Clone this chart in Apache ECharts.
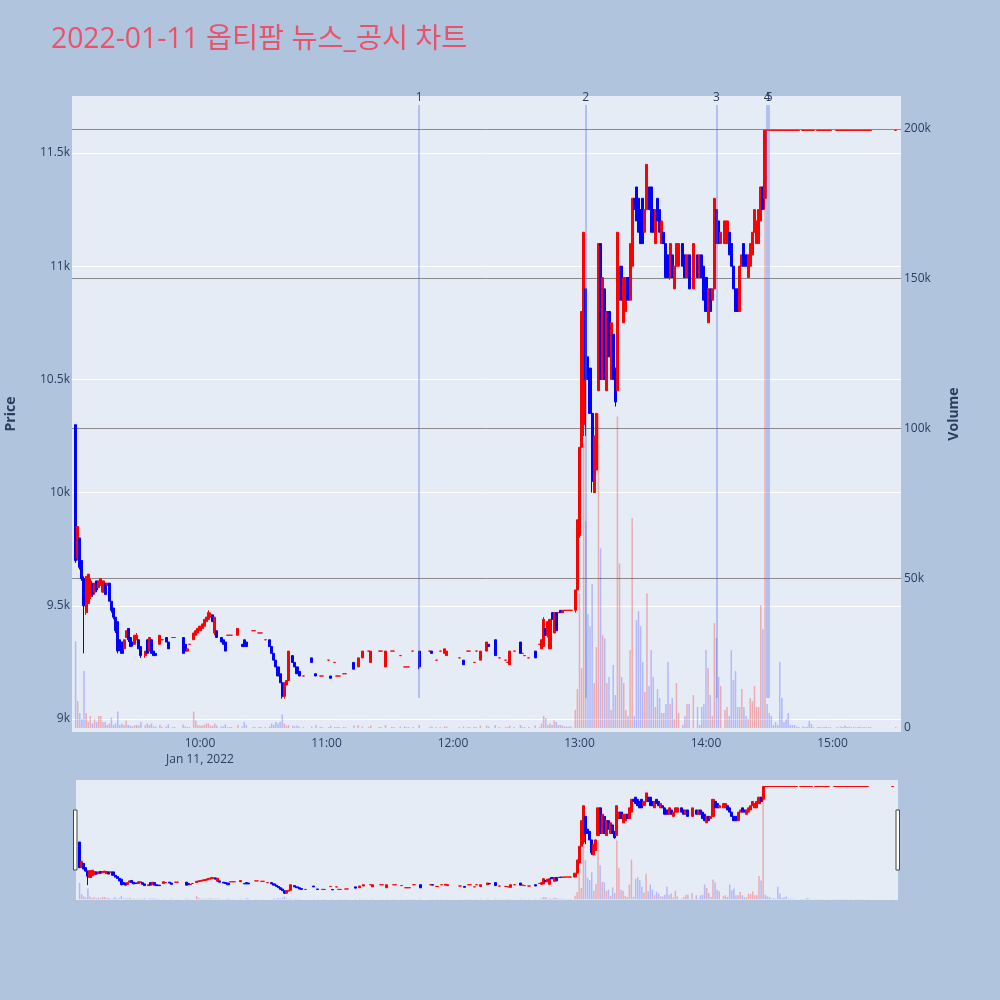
<!DOCTYPE html>
<html><head><meta charset="utf-8">
<script src="https://cdn.jsdelivr.net/npm/echarts@6/dist/echarts.min.js"></script>
<style>html,body{margin:0;padding:0;background:#b0c4de}#c{width:1000px;height:1000px}</style>
</head><body><div id="c"></div>
<script>
// ---------- data (minute bars, 2022-01-11) ----------
const times = [
"09:01","09:02","09:03","09:04","09:05","09:06","09:07","09:08","09:09","09:10","09:11","09:12","09:13","09:14","09:15","09:16",
"09:17","09:18","09:19","09:20","09:21","09:22","09:23","09:24","09:25","09:26","09:27","09:28","09:29","09:30","09:31","09:32",
"09:34","09:35","09:36","09:37","09:38","09:39","09:41","09:42","09:44","09:45","09:47","09:48","09:52","09:53","09:54","09:55",
"09:57","09:58","09:59","10:00","10:01","10:02","10:03","10:04","10:05","10:06","10:07","10:08","10:10","10:11","10:12","10:13",
"10:14","10:15","10:18","10:20","10:21","10:22","10:25","10:26","10:28","10:29","10:31","10:33","10:34","10:35","10:36","10:37",
"10:38","10:39","10:40","10:41","10:42","10:44","10:45","10:46","10:47","10:49","10:53","10:55","10:57","10:58","11:01","11:02",
"11:04","11:05","11:06","11:08","11:09","11:13","11:15","11:17","11:20","11:21","11:25","11:26","11:28","11:31","11:32","11:35",
"11:37","11:38","11:39","11:41","11:44","11:49","11:50","11:52","11:54","11:56","11:57","12:03","12:05","12:07","12:08","12:10",
"12:11","12:13","12:16","12:17","12:20","12:22","12:25","12:26","12:27","12:29","12:32","12:33","12:34","12:36","12:39","12:41",
"12:42","12:43","12:44","12:45","12:46","12:47","12:48","12:49","12:50","12:51","12:52","12:53","12:54","12:55","12:56","12:58",
"12:59","13:00","13:01","13:02","13:03","13:04","13:05","13:06","13:07","13:08","13:09","13:10","13:11","13:12","13:13","13:14",
"13:15","13:16","13:17","13:18","13:19","13:20","13:21","13:22","13:23","13:24","13:25","13:26","13:27","13:28","13:29","13:30",
"13:31","13:32","13:33","13:34","13:35","13:36","13:37","13:38","13:39","13:40","13:41","13:42","13:43","13:44","13:45","13:46",
"13:47","13:49","13:50","13:51","13:52","13:54","13:56","13:57","13:58","13:59","14:00","14:01","14:02","14:03","14:04","14:05",
"14:06","14:07","14:09","14:10","14:11","14:12","14:13","14:14","14:15","14:16","14:17","14:18","14:19","14:20","14:21","14:22",
"14:23","14:24","14:25","14:26","14:27","14:28","14:29","14:30","14:31","14:32","14:33","14:34","14:35","14:36","14:37","14:38",
"14:39","14:40","14:41","14:42","14:43","14:44","14:46","14:47","14:48","14:49","14:50","14:51","14:53","14:54","14:55","14:56",
"14:57","14:58","14:59","15:02","15:03","15:04","15:05","15:06","15:07","15:08","15:09","15:10","15:11","15:12","15:13","15:14",
"15:15","15:16","15:17","15:18","15:30"];
const opens = [
10300,9710,9800,9700,9620,9470,9510,9540,9600,9560,9610,9580,9590,9560,9600,9590,
9600,9520,9490,9450,9430,9350,9340,9310,9360,9400,9360,9340,9330,9350,9350,9320,
9280,9350,9300,9350,9300,9290,9330,9350,9360,9340,9360,9360,9360,9330,9300,9330,
9350,9370,9380,9390,9400,9410,9430,9440,9450,9460,9380,9390,9360,9350,9340,9370,
9370,9370,9370,9330,9350,9340,9390,9390,9380,9380,9350,9350,9320,9290,9260,9230,
9200,9160,9100,9150,9170,9280,9250,9230,9210,9190,9270,9200,9190,9190,9260,9190,
9250,9190,9190,9200,9200,9250,9230,9270,9300,9250,9300,9300,9230,9300,9300,9280,
9230,9230,9230,9300,9300,9300,9300,9260,9300,9290,9280,9270,9260,9300,9300,9250,
9300,9260,9300,9330,9350,9270,9260,9250,9240,9300,9340,9290,9280,9270,9300,9330,
9310,9320,9400,9370,9310,9470,9380,9470,9470,9480,9470,9480,9480,9480,9480,9480,
9570,9810,10200,10300,10900,10600,10550,10350,10000,10100,10450,11100,10500,10900,10450,10800,
10500,10700,10550,10450,10850,11000,10750,10800,10950,10850,11000,11300,11350,11300,11250,11300,
11150,11250,11350,11350,11250,11100,11300,11250,11100,11150,11100,11050,10950,11050,10900,11000,
11000,11100,11050,10950,11050,10900,11050,10950,11050,11000,10950,10750,10900,10850,10900,11250,
11200,11100,11100,11100,11150,11100,11000,10900,10900,10800,11000,11100,11050,10950,11000,11050,
11150,11100,11100,11200,11350,11300,11600,11600,11600,11600,11600,11600,11600,11600,11600,11600,
11600,11600,11600,11600,11600,11600,11600,11600,11600,11600,11600,11600,11600,11600,11600,11600,
11600,11600,11600,11600,11600,11600,11600,11600,11600,11600,11600,11600,11600,11600,11600,11600,
11600,11600,11600,11600,11600];
const closes = [
9700,9850,9670,9620,9500,9630,9640,9610,9550,9600,9570,9610,9620,9610,9550,9600,
9520,9480,9450,9390,9300,9310,9290,9350,9390,9350,9320,9330,9370,9370,9310,9280,
9300,9290,9360,9290,9280,9280,9370,9350,9340,9310,9360,9360,9290,9300,9310,9330,
9380,9390,9400,9410,9420,9440,9450,9470,9460,9430,9450,9360,9340,9330,9300,9370,
9370,9370,9400,9320,9320,9320,9390,9390,9380,9380,9350,9320,9290,9260,9230,9190,
9160,9100,9160,9170,9300,9250,9230,9200,9190,9190,9250,9190,9190,9190,9260,9180,
9250,9190,9190,9200,9200,9220,9270,9300,9300,9300,9300,9300,9300,9300,9300,9280,
9230,9230,9230,9300,9230,9300,9290,9260,9300,9310,9300,9270,9240,9300,9300,9250,
9300,9300,9340,9320,9280,9270,9260,9250,9300,9300,9290,9290,9280,9270,9270,9330,
9350,9440,9370,9430,9440,9440,9470,9390,9470,9470,9480,9480,9480,9480,9480,9570,
9880,10200,10800,11150,10500,10500,10350,10050,10250,10350,11100,10500,10950,10500,10800,10600,
10750,10500,10400,11150,11000,10850,10950,10950,10850,11100,11300,11250,11200,11150,11100,11100,
11250,11450,11250,11150,11150,11250,11200,11150,11200,11100,10950,10950,11100,10950,11000,11100,
11100,11000,10950,11050,10900,11100,10950,11050,10950,10850,10800,10900,10800,10900,11300,11100,
11100,11150,11200,11200,11050,11000,10900,10800,10800,11000,11050,11000,11000,11050,11100,11150,
11250,11200,11250,11350,11250,11600,11600,11600,11600,11600,11600,11600,11600,11600,11600,11600,
11600,11600,11600,11600,11600,11600,11600,11600,11600,11600,11600,11600,11600,11600,11600,11600,
11600,11600,11600,11600,11600,11600,11600,11600,11600,11600,11600,11600,11600,11600,11600,11600,
11600,11600,11600,11600,11600];
const lows = [
9690,9700,9660,9610,9290,9460,9500,9530,9540,9550,9560,9580,9590,9560,9550,9590,
9520,9470,9440,9380,9290,9300,9290,9300,9360,9340,9320,9320,9330,9350,9310,9270,
9270,9290,9300,9290,9280,9280,9330,9350,9340,9310,9360,9360,9290,9300,9300,9330,
9350,9370,9380,9390,9400,9410,9430,9440,9450,9430,9370,9360,9340,9330,9300,9370,
9370,9370,9370,9320,9320,9320,9390,9390,9380,9380,9350,9320,9290,9260,9230,9190,
9160,9090,9090,9150,9170,9250,9230,9200,9190,9190,9250,9190,9190,9190,9260,9180,
9250,9190,9190,9200,9200,9220,9230,9270,9300,9250,9300,9300,9230,9300,9300,9280,
9230,9230,9230,9300,9220,9300,9290,9260,9300,9290,9280,9270,9240,9300,9300,9250,
9300,9260,9300,9320,9280,9270,9260,9250,9240,9300,9290,9290,9280,9270,9270,9330,
9310,9320,9370,9360,9310,9440,9380,9390,9470,9470,9470,9480,9480,9480,9480,9470,
9570,9800,10200,10250,10250,10500,10350,10000,10000,10100,10450,10500,10500,10500,10450,10600,
10500,10500,10380,10450,10850,10850,10750,10800,10850,10850,11000,11250,11200,11150,11100,11100,
11150,11250,11250,11150,11150,11100,11200,11150,11100,11100,10950,10950,10940,10950,10900,11000,
11000,11000,10950,10950,10900,10900,10950,10950,10950,10850,10800,10750,10800,10850,10900,11100,
11100,11100,11100,11100,11050,11000,10900,10800,10800,10800,11000,11000,11000,10950,11000,11050,
11150,11100,11100,11200,11250,11250,11600,11600,11600,11600,11600,11600,11600,11600,11600,11600,
11600,11600,11600,11600,11600,11600,11600,11600,11600,11600,11600,11600,11600,11600,11600,11600,
11600,11600,11600,11600,11600,11600,11600,11600,11600,11600,11600,11600,11600,11600,11600,11600,
11600,11600,11600,11600,11600];
const highs = [
10300,9850,9800,9700,9630,9630,9640,9620,9600,9600,9610,9610,9620,9610,9600,9600,
9600,9520,9490,9450,9430,9350,9340,9350,9390,9400,9360,9340,9370,9380,9350,9320,
9300,9350,9360,9350,9300,9290,9370,9350,9360,9340,9360,9360,9360,9330,9310,9330,
9380,9390,9400,9410,9420,9440,9450,9480,9470,9460,9450,9390,9360,9350,9340,9370,
9370,9370,9400,9330,9350,9340,9390,9390,9380,9380,9350,9350,9320,9290,9260,9230,
9200,9160,9160,9170,9300,9280,9250,9230,9210,9190,9270,9200,9190,9190,9260,9190,
9250,9190,9190,9200,9200,9250,9270,9300,9300,9300,9300,9300,9300,9300,9300,9280,
9230,9230,9230,9300,9300,9300,9300,9260,9300,9310,9300,9270,9260,9300,9300,9250,
9300,9300,9340,9330,9350,9270,9260,9250,9300,9300,9340,9290,9280,9270,9300,9330,
9350,9450,9400,9430,9440,9470,9470,9470,9470,9480,9480,9480,9480,9480,9480,9570,
9880,10200,10800,11150,10900,10600,10550,10350,10250,10350,11100,11100,10950,10900,10800,10800,
10750,10700,10550,11150,11000,11000,10950,10950,10950,11100,11300,11300,11350,11300,11250,11300,
11250,11450,11350,11350,11250,11250,11300,11250,11200,11150,11100,11050,11100,11050,11000,11100,
11100,11100,11050,11050,11050,11100,11050,11050,11050,11000,10950,10900,10900,10900,11300,11250,
11200,11150,11200,11200,11150,11100,11000,10900,10900,11000,11050,11100,11050,11050,11100,11150,
11250,11200,11250,11350,11350,11600,11600,11600,11600,11600,11600,11600,11600,11600,11600,11600,
11600,11600,11600,11600,11600,11600,11600,11600,11600,11600,11600,11600,11600,11600,11600,11600,
11600,11600,11600,11600,11600,11600,11600,11600,11600,11600,11600,11600,11600,11600,11600,11600,
11600,11600,11600,11600,11600];
const volumes = [
29000,9000,5000,3000,19000,5000,2000,4000,1500,3000,2000,4000,4000,2000,2000,1000,
1500,3500,1000,1500,5500,1000,1500,1000,2500,1000,800,500,1000,1000,800,2000,
800,1500,1000,1500,500,500,1000,300,500,1200,300,300,1200,500,300,300,
5500,2500,1000,800,800,1000,1500,1500,800,800,1500,800,500,500,1200,300,
300,300,1000,500,2000,1000,300,300,300,300,300,500,1500,1000,2000,1500,
2000,4500,1500,800,1000,800,500,800,500,300,500,1000,300,300,300,800,
300,300,300,300,300,800,1000,500,300,800,300,300,1000,300,300,500,
500,300,300,300,1000,300,500,300,300,500,500,300,500,300,300,300,
300,800,800,500,1000,300,300,300,800,300,1000,300,300,300,800,300,
1500,4000,3300,1000,1500,1000,2500,2000,1000,1000,800,500,500,500,500,6000,
13000,45000,20000,95000,69000,38000,34000,48000,15000,27000,105000,60000,31000,30000,15000,17000,
6000,21000,11000,104000,55000,17000,15000,6000,4000,26000,70000,4000,36000,39000,34000,22000,
12000,45000,14000,26000,17000,7000,13000,10000,5000,5000,8000,22000,8000,10000,3000,15000,
5000,1000,4000,8000,8000,11000,7000,1000,7000,8000,26000,20000,11000,4000,35000,30000,
17000,14000,6000,7000,4000,26000,16000,19000,7000,7000,13000,7000,4000,3000,10000,9000,
14000,7000,7000,41000,33000,200000,8000,5000,4000,1000,2000,1000,22000,10000,2000,3000,
5000,1000,1000,1000,500,300,500,300,400,2400,1300,300,400,300,200,300,
400,200,300,300,200,400,300,800,300,500,200,300,200,300,400,200,
300,200,300,400,300];
const newsTimes = ["11:44","13:03","14:05","14:29","14:30"];
const newsLabels = ["1","2","3","4","5"];
const priceTicks = [9000, 9500, 10000, 10500, 11000, 11500];
const volumeTicks = [0, 50000, 100000, 150000, 200000];
const timeTicks = ["10:00","11:00","12:00","13:00","14:00","15:00"];
const dateLabel = "Jan 11, 2022";
const titleText = "2022-01-11 옵티팜 뉴스_공시 차트";

// ---------- helpers ----------
const toMin = s => { const p = s.split(':').map(Number); return (p[0] - 9) * 60 + p[1] + (p[2] || 0) / 60; };
const fmtK = v => v === 0 ? '0' : (v / 1000) + 'k';
const fmtTime = v => { const h = 9 + Math.floor(v / 60), m = Math.round(v % 60); return (h < 10 ? '0' : '') + h + ':' + (m < 10 ? '0' : '') + m; };
const candleData = times.map((t, i) => [toMin(t), opens[i], closes[i], lows[i], highs[i]]);
const volData = times.map((t, i) => [toMin(t), volumes[i]]);
const tickMins = timeTicks.map(toMin);
const FONT = "'Open Sans', 'Noto Sans CJK KR', sans-serif";
const TXT = '#2a3f5f';
const RED = '#ff0000', BLUE = '#0000ff';
const volColor = p => closes[p.dataIndex] > opens[p.dataIndex] ? 'rgba(255,0,0,0.28)' : 'rgba(0,0,255,0.22)';
const PMIN = 8942.6, PMAX = 11751.8, VMIN = -1340, VMAX = 211000, XMIN = -0.7, XMAX = 392.5;

const newsLines = newsTimes.map((t, i) => [
  { coord: [toMin(t), 11712], name: newsLabels[i] },
  { coord: [toMin(t), 9093] }
]);

const candleStyle = { color: RED, color0: BLUE, borderColor: RED, borderColor0: BLUE, borderColorDoji: RED, borderWidth: 1 };

const chart = echarts.init(document.getElementById('c'), null, { renderer: 'canvas' });
chart.setOption({
  animation: false,
  backgroundColor: '#b0c4de',
  textStyle: { fontFamily: FONT },
  title: {
    text: titleText, left: 46, top: 21,
    textStyle: { fontFamily: FONT, fontSize: 28.3, fontWeight: 'normal', color: '#e9526a' }
  },
  grid: [
    { left: 72, top: 96, width: 829, height: 636, show: true, backgroundColor: '#e5ecf6', borderWidth: 0,
      containLabel: false, outerBoundsMode: 'none' },
    { left: 76, top: 780, width: 822, height: 120, show: true, backgroundColor: '#e5ecf6', borderWidth: 0,
      containLabel: false, outerBoundsMode: 'none' }
  ],
  xAxis: [
    { type: 'value', gridIndex: 0, min: XMIN, max: XMAX,
      axisLine: { show: false }, axisTick: { show: false, customValues: tickMins }, splitLine: { show: false },
      axisLabel: { customValues: tickMins, color: TXT, fontSize: 12, fontFamily: FONT, margin: 4, lineHeight: 16,
        formatter: v => Math.abs(v - tickMins[0]) < 0.01 ? fmtTime(v) + '\n' + dateLabel : fmtTime(v) } },
    { type: 'value', gridIndex: 1, min: XMIN, max: XMAX, show: false, splitLine: { show: false } }
  ],
  yAxis: [
    { type: 'value', gridIndex: 0, position: 'left', min: PMIN, max: PMAX,
      name: 'Price', nameLocation: 'middle', nameGap: 54,
      nameTextStyle: { fontFamily: FONT, fontSize: 14, fontWeight: 'bold', color: TXT },
      axisLine: { show: false }, axisTick: { show: false, customValues: priceTicks },
      axisLabel: { customValues: priceTicks, formatter: fmtK, color: TXT, fontSize: 12, fontFamily: FONT, margin: 2 },
      splitLine: { show: true, lineStyle: { color: '#ffffff', width: 1 } } },
    { type: 'value', gridIndex: 0, position: 'right', min: VMIN, max: VMAX,
      name: 'Volume', nameLocation: 'middle', nameGap: 46,
      nameTextStyle: { fontFamily: FONT, fontSize: 14, fontWeight: 'bold', color: TXT },
      axisLine: { show: false }, axisTick: { show: false, customValues: volumeTicks.slice(1) },
      axisLabel: { customValues: volumeTicks, formatter: fmtK, color: TXT, fontSize: 12, fontFamily: FONT, margin: 3 },
      splitLine: { show: true, lineStyle: { color: '#8a8a8a', width: 1 } } },
    { type: 'value', gridIndex: 1, min: PMIN, max: PMAX, show: false, splitLine: { show: false } },
    { type: 'value', gridIndex: 1, min: VMIN, max: VMAX, show: false, splitLine: { show: false } }
  ],
  series: [
    { name: 'Volume', type: 'bar', xAxisIndex: 0, yAxisIndex: 1, data: volData, barWidth: 1.5, silent: true,
      itemStyle: { color: volColor } },
    { name: 'Price', type: 'candlestick', xAxisIndex: 0, yAxisIndex: 0, data: candleData,
      encode: { x: 0, y: [1, 2, 3, 4] }, barWidth: 2.6, itemStyle: candleStyle, silent: true,
      markLine: { silent: true, symbol: ['none', 'none'], animation: false,
        lineStyle: { color: 'rgba(90,120,235,0.5)', width: 1.5, type: 'solid' },
        label: { show: true, position: 'start', distance: 1, formatter: '{b}', color: TXT, fontSize: 12, fontFamily: FONT },
        emphasis: { disabled: true },
        data: newsLines } },
    { type: 'bar', xAxisIndex: 1, yAxisIndex: 3, data: volData, barWidth: 1.5, silent: true,
      itemStyle: { color: volColor } },
    { type: 'candlestick', xAxisIndex: 1, yAxisIndex: 2, data: candleData,
      encode: { x: 0, y: [1, 2, 3, 4] }, barWidth: 2.6, itemStyle: candleStyle, silent: true }
  ],
  graphic: [
    { type: 'rect', shape: { x: 73.5, y: 810, width: 3.5, height: 60 }, style: { fill: '#ffffff', stroke: '#444444', lineWidth: 1 } },
    { type: 'rect', shape: { x: 896, y: 810, width: 3.5, height: 60 }, style: { fill: '#ffffff', stroke: '#444444', lineWidth: 1 } }
  ]
});
</script>
</body></html>
